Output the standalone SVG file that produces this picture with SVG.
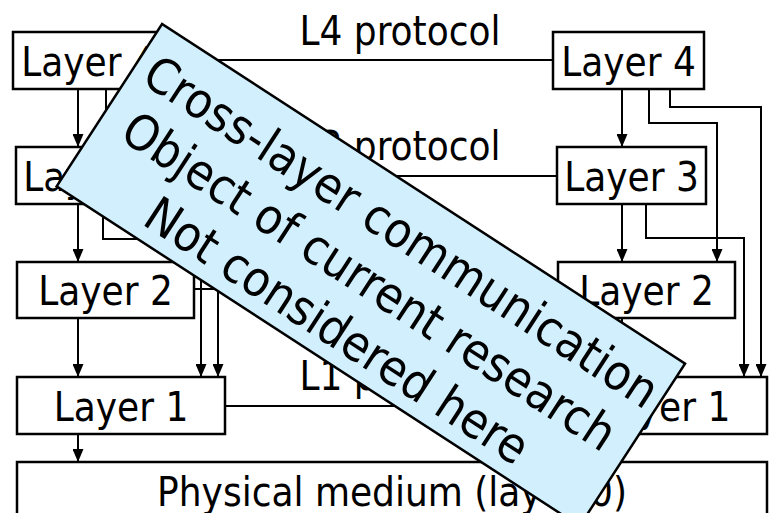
<svg xmlns="http://www.w3.org/2000/svg" width="776" height="513" viewBox="0 0 776 513">
<style>
.box{fill:#fff;stroke:#000;stroke-width:2.5}
.t{font-family:"DejaVu Sans Condensed","DejaVu Sans",sans-serif;font-stretch:condensed;font-size:40px;fill:#000;text-anchor:middle}
.ln{fill:none;stroke:#000;stroke-width:2}
.arr{fill:none;stroke:#000;stroke-width:2;marker-end:url(#ah)}
.note{fill:#d2effd;stroke:#000;stroke-width:2.5}
.nt{font-family:"DejaVu Sans Condensed","DejaVu Sans",sans-serif;font-stretch:condensed;font-size:49px;fill:#000;text-anchor:middle}
</style>
<defs>
<marker id="ah" markerUnits="userSpaceOnUse" markerWidth="13" markerHeight="11" refX="13" refY="5.5" orient="auto">
<path d="M0,0 L13,5.5 L0,11 z" fill="#000"/>
</marker>
</defs>
<rect width="776" height="513" fill="#fff"/>
<g id="connectors">
<line class="ln" x1="164" y1="60" x2="553" y2="60"/>
<line class="ln" x1="165" y1="176" x2="557" y2="176"/>
<line class="ln" x1="194" y1="289" x2="558" y2="289"/>
<line class="ln" x1="225" y1="406" x2="559" y2="406"/>
<line class="arr" x1="78" y1="89" x2="78" y2="147"/>
<line class="arr" x1="78" y1="204" x2="78" y2="262"/>
<line class="arr" x1="78" y1="318" x2="78" y2="377"/>
<line class="arr" x1="78" y1="434" x2="78" y2="462"/>
<polyline class="arr" points="106,89 106,123 174,123 174,262"/>
<polyline class="arr" points="127,89 127,107 218,107 218,377"/>
<polyline class="arr" points="103,204 103,239 201,239 201,377"/>
<line class="arr" x1="622" y1="89" x2="622" y2="147"/>
<line class="arr" x1="622" y1="204" x2="622" y2="262"/>
<line class="arr" x1="622" y1="318" x2="622" y2="377"/>
<polyline class="arr" points="649,89 649,123 717,123 717,262"/>
<polyline class="arr" points="670,89 670,107 761,107 761,377"/>
<polyline class="arr" points="646,204 646,238 744,238 744,377"/>
</g>
<g id="l4-label"><text class="t" x="400" y="45">L4 protocol</text></g>
<g id="l3-label"><text class="t" x="400" y="160">L3 protocol</text></g>
<g id="l1-label"><text class="t" x="400" y="390">L1 protocol</text></g>
<g id="left-layer4"><rect class="box" x="13" y="32" width="151" height="57"/><text class="t" x="88.5" y="76">Layer 4</text></g>
<g id="left-layer3"><rect class="box" x="16" y="147" width="149" height="57"/><text class="t" x="90.5" y="191">Layer 3</text></g>
<g id="left-layer2"><rect class="box" x="17" y="262" width="177" height="56"/><text class="t" x="105.5" y="305">Layer 2</text></g>
<g id="left-layer1"><rect class="box" x="17" y="377" width="208" height="57"/><text class="t" x="121" y="421">Layer 1</text></g>
<g id="right-layer4"><rect class="box" x="553" y="32" width="151" height="57"/><text class="t" x="628.5" y="76">Layer 4</text></g>
<g id="right-layer3"><rect class="box" x="557" y="147" width="149" height="57"/><text class="t" x="631.5" y="191">Layer 3</text></g>
<g id="right-layer2"><rect class="box" x="558" y="262" width="177" height="56"/><text class="t" x="646.5" y="305">Layer 2</text></g>
<g id="right-layer1"><rect class="box" x="559" y="377" width="208" height="57"/><text class="t" x="663" y="421">Layer 1</text></g>
<g id="physical"><rect class="box" x="17" y="462" width="750" height="70"/><text class="t" x="392" y="506">Physical medium (layer 0)</text></g>
<g id="cross-layer-note" transform="translate(370.85,275) rotate(33)">
<rect class="note" x="-311.8" y="-96.8" width="623.6" height="193.6"/>
<text class="nt" x="2" y="-36">Cross-layer communication</text>
<text class="nt" x="2" y="23">Object of current research</text>
<text class="nt" x="2" y="82">Not considered here</text>
</g>
</svg>
